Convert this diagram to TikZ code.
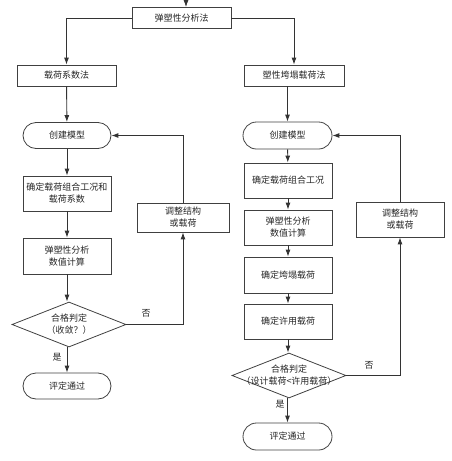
\documentclass[tikz,border=0pt]{standalone}
\usepackage{fontspec}
\newfontfamily\cjk{Noto Sans CJK SC}
\usetikzlibrary{shapes.geometric,arrows.meta}
\tikzset{
  flowline/.style={draw=black!80, line width=0.9pt},
  flowarrow/.style={flowline, -{Latex[length=7pt,width=5pt]}}
}

\begin{document}
\begin{tikzpicture}[x=1pt,y=-1pt]

  % --- styles ---
  \tikzset{
    procbox/.style={draw=black!75, line width=0.8pt, minimum width=88pt,
      minimum height=35pt, inner sep=1pt, align=center,
      font=\cjk\fontsize{9}{12}\selectfont, text=black!85},
    methodbox/.style={procbox, minimum width=99pt, minimum height=21pt},
    termbox/.style={procbox, minimum height=26pt, rounded corners=13pt},
    decide/.style={draw=black!75, line width=0.8pt, shape=diamond,
      minimum width=114pt, minimum height=45pt, inner sep=0pt},
    lbl/.style={font=\cjk\fontsize{9}{12}\selectfont, text=black!85,
      inner sep=1pt, align=center},
  }

  % --- frame ---
  \useasboundingbox (0,0) rectangle (452,461);

  % =========================
  %  TOP LEVEL
  % =========================

  \coordinate (in0) at (186,0);
  \node[methodbox] (top) at (181.5,18) {弹塑性分析法};
  \node[methodbox] (m1) at (66.5,75.5) {载荷系数法};
  \node[methodbox, minimum width=100pt] (m2) at (294,75.5) {塑性垮塌载荷法};

  \draw[flowarrow] (in0) -- (in0 |- top.north);
  \draw[flowarrow] (top.west) -| (m1.north);
  \draw[flowarrow] (top.east) -| (m2.north);

  % =========================
  %  LEFT COLUMN
  % =========================

  \node[termbox] (L1) at (67,135.5) {创建模型};
  \node[procbox] (L2) at (67,193.5) {确定载荷组合工况和\\载荷系数};
  \node[procbox, minimum height=36pt] (L3) at (67,256) {弹塑性分析\\数值计算};
  \node[decide] (L4) at (69,324.5) {};
  \node[lbl] (L4t) at (L4) {合格判定\\（收敛？）};
  \node[termbox] (L5) at (67,386) {评定通过};
  \node[procbox, minimum width=92pt, minimum height=29pt] (Ladj) at (183,217.5) {调整结构\\或载荷};
  \node[lbl] (Lno) at (146,313) {否};
  \node[lbl] (Lyes) at (57,357) {是};

  \draw[flowarrow] (m1) -- (L1);
  \draw[flowarrow] (L1) -- (L2);
  \draw[flowarrow] (L2) -- (L3);
  \draw[flowarrow] (L3) -- (L4.north -| L3.south);
  \draw[flowarrow] (L4.south -| L5.north) -- (L5);
  \draw[flowarrow] (L4.east) -| (Ladj.south);
  \draw[flowarrow] (Ladj.north) |- (L1.east);

  % =========================
  %  RIGHT COLUMN
  % =========================

  \node[termbox, minimum width=89pt, minimum height=27pt, rounded corners=13.5pt] (R1) at (287.5,135.5) {创建模型};
  \node[procbox] (R2) at (288,180.5) {确定载荷组合工况};
  \node[procbox] (R3) at (288,227.5) {弹塑性分析\\数值计算};
  \node[procbox, minimum height=36pt] (R4) at (288,275) {确定垮塌载荷};
  \node[procbox] (R5) at (288,321.5) {确定许用载荷};
  \node[decide] (R6) at (289,375.5) {};
  \node[lbl] (R6t) at (R6) {合格判定\\（设计载荷<许用载荷）};
  \node[termbox, minimum width=89pt, minimum height=27pt, rounded corners=13.5pt] (R7) at (287.5,436.5) {评定通过};
  \node[procbox] (Radj) at (400,219.5) {调整结构\\或载荷};
  \node[lbl] (Rno) at (369,365) {否};
  \node[lbl] (Ryes) at (280,404) {是};

  \draw[flowarrow] (m2.south -| R1.north) -- (R1);
  \draw[flowarrow] (R1) -- (R2);
  \draw[flowarrow] (R2) -- (R3);
  \draw[flowarrow] (R3) -- (R4);
  \draw[flowarrow] (R4) -- (R5);
  \draw[flowarrow] (R5.south) -- (R6.north -| R5.south);
  \draw[flowarrow] (R6.south -| R7.north) -- (R7);
  \draw[flowarrow] (R6.east) -| (Radj.south);
  \draw[flowarrow] (Radj.north) |- (R1.east);

\end{tikzpicture}
\end{document}
